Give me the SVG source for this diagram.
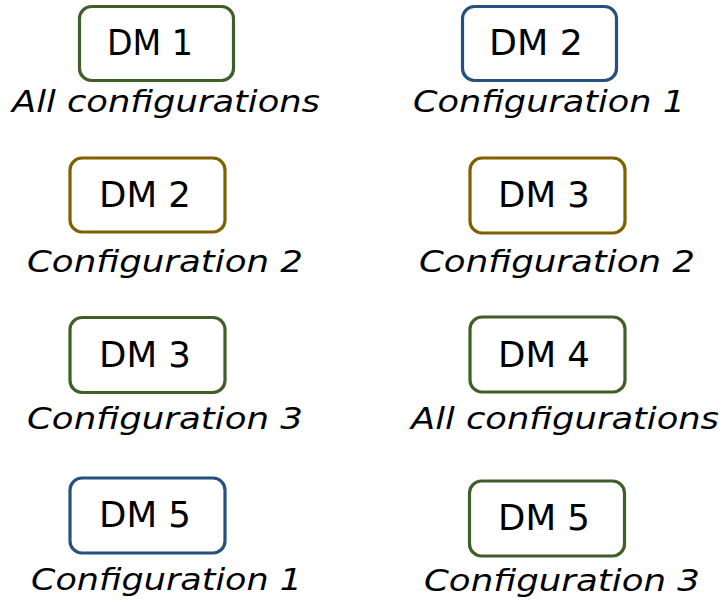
<svg xmlns="http://www.w3.org/2000/svg" width="724" height="603" viewBox="0 0 724 603">
<style>
.box{fill:#fff;stroke-width:3.2}
.g{stroke:#3F5F28}
.b{stroke:#26507D}
.y{stroke:#7F6000}
.lbl{font-family:"DejaVu Sans",sans-serif;font-size:36px;fill:#000}
.cap{font-family:"DejaVu Sans",sans-serif;font-style:italic;font-size:31px;fill:#000}
</style>
<rect width="724" height="603" fill="#fff"/>
<g id="connectors"/>
<g id="n1">
<rect class="box g" x="79.5" y="6.5" width="154" height="74" rx="12"/>
<text class="lbl" x="107" y="55" textLength="86" lengthAdjust="spacingAndGlyphs">DM 1</text>
<text class="cap" x="12" y="112" textLength="308" lengthAdjust="spacingAndGlyphs">All configurations</text>
</g>
<g id="n2">
<rect class="box b" x="462.5" y="6.5" width="154" height="74" rx="12"/>
<text class="lbl" x="489" y="55" textLength="94" lengthAdjust="spacingAndGlyphs">DM 2</text>
<text class="cap" x="413" y="112" textLength="272" lengthAdjust="spacingAndGlyphs">Configuration 1</text>
</g>
<g id="n3">
<rect class="box y" x="70" y="158" width="155" height="74" rx="12"/>
<text class="lbl" x="99" y="207" textLength="92" lengthAdjust="spacingAndGlyphs">DM 2</text>
<text class="cap" x="27" y="272" textLength="276" lengthAdjust="spacingAndGlyphs">Configuration 2</text>
</g>
<g id="n4">
<rect class="box y" x="470" y="158" width="155" height="75" rx="12"/>
<text class="lbl" x="498" y="207" textLength="92" lengthAdjust="spacingAndGlyphs">DM 3</text>
<text class="cap" x="419" y="272" textLength="276" lengthAdjust="spacingAndGlyphs">Configuration 2</text>
</g>
<g id="n5">
<rect class="box g" x="70" y="317.5" width="155" height="75" rx="12"/>
<text class="lbl" x="99" y="367" textLength="92" lengthAdjust="spacingAndGlyphs">DM 3</text>
<text class="cap" x="27" y="429" textLength="276" lengthAdjust="spacingAndGlyphs">Configuration 3</text>
</g>
<g id="n6">
<rect class="box g" x="470" y="317" width="155" height="75" rx="12"/>
<text class="lbl" x="498" y="367" textLength="92" lengthAdjust="spacingAndGlyphs">DM 4</text>
<text class="cap" x="411" y="429" textLength="308" lengthAdjust="spacingAndGlyphs">All configurations</text>
</g>
<g id="n7">
<rect class="box b" x="70" y="478" width="155" height="75" rx="12"/>
<text class="lbl" x="99" y="527" textLength="92" lengthAdjust="spacingAndGlyphs">DM 5</text>
<text class="cap" x="31" y="590" textLength="271" lengthAdjust="spacingAndGlyphs">Configuration 1</text>
</g>
<g id="n8">
<rect class="box g" x="469.5" y="481" width="155" height="75" rx="12"/>
<text class="lbl" x="498" y="530" textLength="92" lengthAdjust="spacingAndGlyphs">DM 5</text>
<text class="cap" x="424" y="591" textLength="276" lengthAdjust="spacingAndGlyphs">Configuration 3</text>
</g>
</svg>
